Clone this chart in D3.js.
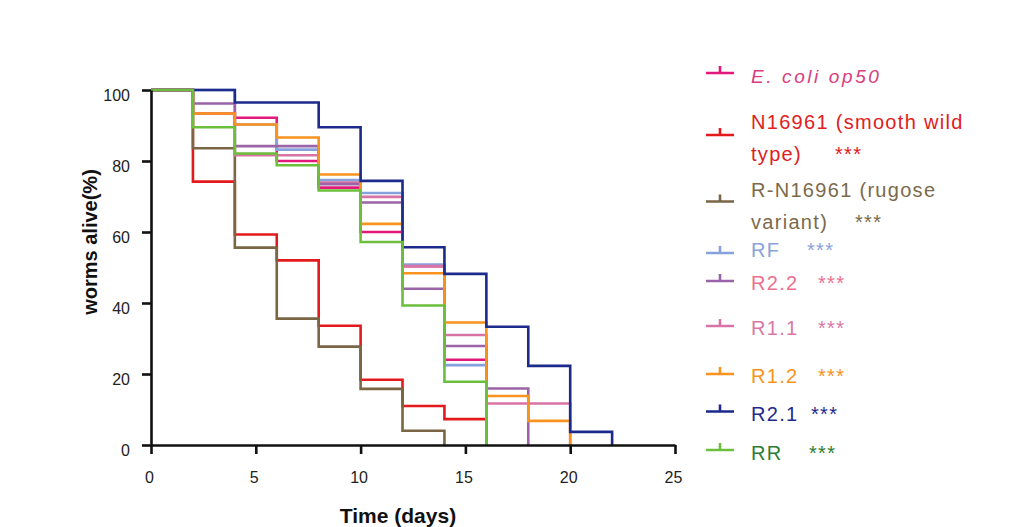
<!DOCTYPE html>
<html lang="en">
  <head>
    <meta charset="UTF-8" />
    <title>Worm survival</title>
    <style>
      body {
        margin: 0;
        background: #fff;
        font-family: "Liberation Sans", Arial, sans-serif;
      }
    </style>
    <script src="https://d3js.org/d3.v7.min.js"></script>
  </head>
  <body>
  </body>
  <script>

    // interval start days; each series gives % alive from days[i] to days[i+1],
    // then drops to 0 at the end of its last interval
    const days = [0, 2, 4, 6, 8, 10, 12, 14, 16, 18, 20, 22]
    const xTicks = [0, 5, 10, 15, 20, 25]
    const yTicks = [0, 20, 40, 60, 80, 100]

    const ecoliOp50 = [100, 93.4, 92.2, 80, 72.5, 60, 50.4, 24]
    const n16961 = [100, 74.2, 59.3, 52, 33.6, 18.4, 11, 7.3]
    const rN16961 = [100, 83.6, 55.6, 35.6, 27.7, 15.8, 4]
    const rf = [100, 100, 90.3, 83.2, 74.6, 71, 50.8, 22.5]
    const r22 = [100, 96.2, 84.2, 84.2, 73.5, 68.3, 44, 27.9, 15.9]
    const r11 = [100, 93.4, 81.6, 81.6, 73.9, 69.9, 50.4, 31, 11.7, 11.7]
    const r12 = [100, 93.4, 90.3, 86.6, 76.2, 62.3, 48.4, 34.5, 13.8, 6.8]
    const r21 = [100, 100, 96.5, 96.5, 89.5, 74.4, 55.7, 48.2, 33.3, 22.3, 3.7]
    const rr = [100, 89.5, 82.1, 78.8, 71.7, 57.2, 39.3, 17.8]

    const legendNames = [
      ["E. coli op50"],
      ["N16961 (smooth wild", "type)"],
      ["R-N16961 (rugose", "variant)"],
      ["RF"], ["R2.2"], ["R1.1"], ["R1.2"], ["R2.1"], ["RR"]
    ]
    const stars = ["", "***", "***", "***", "***", "***", "***", "***", "***"]

    const lineColors = ["#e2187a", "#e31a1c", "#7a6545", "#86a2dc", "#9c64a8",
                        "#d873a5", "#f7931e", "#1c2a8c", "#6cbf3c"]
    const textColors = ["#d93d7f", "#e0201c", "#7b6a4a", "#8aa3dc", "#ec7090",
                        "#d878a8", "#f7941d", "#1f2a8a", "#2e7d32"]

    const seriesList = [ecoliOp50, n16961, rN16961, rf, r22, r11, r12, r21, rr]
    // draw order (R1.1 under R2.2 so the purple shows at day 2-4)
    const drawOrder = [0, 1, 2, 3, 5, 4, 6, 7, 8]

    const W = 1026, H = 527
    const margin = { top: 90, left: 151 }
    const width = 524, height = 355

    const svg = d3.select("body").append("svg")
        .attr("width", W)
        .attr("height", H)

    const g = svg.append("g")
        .attr("transform", `translate(${margin.left},${margin.top})`)

    const x = d3.scaleLinear().domain([0, 25]).range([0, width])
    const y = d3.scaleLinear().domain([0, 100]).range([height, 0])

    const line = d3.line()
        .curve(d3.curveStepAfter)
        .x(d => x(d[0]))
        .y(d => y(d[1]))

    drawOrder.forEach(i => {
      const vals = seriesList[i]
      const pts = vals.map((v, k) => [days[k], v])
      pts.push([days[vals.length], 0])
      g.append("path")
          .datum(pts)
          .attr("fill", "none")
          .attr("stroke", lineColors[i])
          .attr("stroke-width", 2.6)
          .attr("d", line)
    })

    // axes
    const xAxis = g.append("g")
        .attr("transform", `translate(0,${height})`)
        .call(d3.axisBottom(x).tickValues(xTicks).tickSize(9).tickPadding(18).tickSizeOuter(0))
    const yAxis = g.append("g")
        .call(d3.axisLeft(y).tickValues(yTicks).tickSize(9).tickPadding(12).tickSizeOuter(0))

    g.selectAll(".domain, .tick line")
        .attr("stroke", "#111")
        .style("stroke-width", "2.6")
    g.selectAll(".tick text")
        .attr("fill", "#222")
        .style("font-size", "16px")
        .style("font-family", "'Liberation Sans', Arial, sans-serif")
    xAxis.selectAll(".tick text").attr("dx", "-2")
    yAxis.selectAll(".tick text").attr("dy", "0.66em")

    svg.append("text")
        .attr("x", 398)
        .attr("y", 523)
        .attr("text-anchor", "middle")
        .style("font-weight", "bold")
        .style("font-size", "21px")
        .attr("fill", "#111")
        .text("Time (days)")

    svg.append("text")
        .attr("transform", "translate(97,242) rotate(-90)")
        .attr("text-anchor", "middle")
        .style("font-weight", "bold")
        .style("font-size", "20px")
        .attr("fill", "#111")
        .text("worms alive(%)")

    // legend
    const markerY = [73, 135, 201.5, 253, 281, 326, 374, 411.5, 450]
    const baseY = [82.5, 129, 197, 256.5, 290, 335, 383, 421, 460]
    const starX = [0, 835, 855, 807, 818, 818, 818, 811, 809]
    const lineGap = 31.5

    const leg = svg.append("g")
    legendNames.forEach((names, i) => {
      leg.append("path")
          .attr("d", `M706,${markerY[i]}H734M720,${markerY[i]}V${markerY[i] - 7}`)
          .attr("fill", "none")
          .attr("stroke", lineColors[i])
          .attr("stroke-width", 2.6)

      const t = leg.append("text")
          .attr("fill", textColors[i])
          .style("font-size", "20px")
          .style("letter-spacing", "1.3px")
      if (i === 0) t.style("font-style", "italic").style("font-size", "19px").style("letter-spacing", "2.6px")

      names.forEach((s, k) => {
        t.append("tspan")
            .attr("x", 751)
            .attr("y", baseY[i] + k * lineGap)
            .text(s)
      })
      if (stars[i]) {
        t.append("tspan")
            .attr("x", starX[i])
            .attr("y", baseY[i] + (names.length - 1) * lineGap)
            .text(stars[i])
      }
    })
  </script>
</html>
